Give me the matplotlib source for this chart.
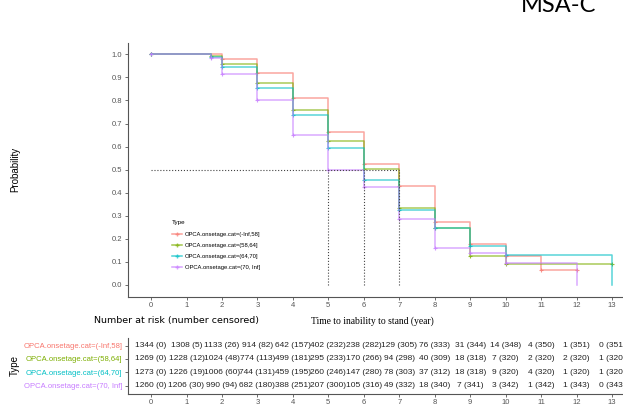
import numpy as np
import matplotlib
matplotlib.use("Agg")
import matplotlib.pyplot as plt
from matplotlib.lines import Line2D

# Group labels and colours (ggplot default hues)
groups = ["OPCA.onsetage.cat=(-Inf,58]", "OPCA.onsetage.cat=(58,64]",
          "OPCA.onsetage.cat=(64,70]", "OPCA.onsetage.cat=(70, Inf]"]
colors = ["#F8766D", "#7CAE00", "#00BFC4", "#C77CFF"]

# Kaplan-Meier step points (time, survival)
red_t = [0, 2, 3, 4, 5, 6, 7, 8, 9, 10, 11, 12]
red_s = [1.0, 0.978, 0.919, 0.812, 0.662, 0.524, 0.430, 0.273, 0.178, 0.127, 0.065, 0.065]
green_t = [0, 1.7, 2, 3, 4, 5, 6, 7, 8, 9, 10, 13]
green_s = [1.0, 0.992, 0.957, 0.877, 0.758, 0.623, 0.502, 0.334, 0.247, 0.124, 0.091, 0.091]
cyan_t = [0, 1.7, 2, 3, 4, 5, 6, 7, 8, 9, 10, 13]
cyan_s = [1.0, 0.988, 0.946, 0.855, 0.736, 0.594, 0.456, 0.324, 0.246, 0.168, 0.130, 0.0]
purple_t = [0, 1.7, 2, 3, 4, 5, 6, 7, 8, 9, 10, 12]
purple_s = [1.0, 0.982, 0.913, 0.800, 0.652, 0.500, 0.426, 0.287, 0.160, 0.139, 0.095, 0.0]

curves_t = [red_t, green_t, cyan_t, purple_t]
curves_s = [red_s, green_s, cyan_s, purple_s]

# median survival times
medians = [5, 6, 7]

# number at risk table
years = list(range(14))
risk_red = ["1344 (0)", "1308 (5)", "1133 (26)", "914 (82)", "642 (157)", "402 (232)", "238 (282)",
            "129 (305)", "76 (333)", "31 (344)", "14 (348)", "4 (350)", "1 (351)", "0 (351)"]
risk_green = ["1269 (0)", "1228 (12)", "1024 (48)", "774 (113)", "499 (181)", "295 (233)", "170 (266)",
              "94 (298)", "40 (309)", "18 (318)", "7 (320)", "2 (320)", "2 (320)", "1 (320)"]
risk_cyan = ["1273 (0)", "1226 (19)", "1006 (60)", "744 (131)", "459 (195)", "260 (246)", "147 (280)",
             "78 (303)", "37 (312)", "18 (318)", "9 (320)", "4 (320)", "1 (320)", "1 (320)"]
risk_purple = ["1260 (0)", "1206 (30)", "990 (94)", "682 (180)", "388 (251)", "207 (300)", "105 (316)",
               "49 (332)", "18 (340)", "7 (341)", "3 (342)", "1 (342)", "1 (343)", "0 (343)"]
risk_rows = [risk_red, risk_green, risk_cyan, risk_purple]

W, H = 623, 409
fig = plt.figure(figsize=(W / 100, H / 100), dpi=100)
plt.rcParams['font.family'] = ['Liberation Sans', 'DejaVu Sans']

def box(l, t, r, b):
    return [l / W, 1 - b / H, (r - l) / W, (b - t) / H]

# ---- survival curves
ax = fig.add_axes(box(128, 42.8, 635, 296.5))
for t, s, c in zip(curves_t, curves_s, colors):
    ax.step(t, s, where='post', color=c, lw=1.1, alpha=0.65)
    pts = [(ti, si) for ti, si in zip(t, s) if si > 0]
    ax.plot([p[0] for p in pts], [p[1] for p in pts], '+', color=c, ms=3, mew=0.8, alpha=0.8)

ax.plot([0, max(medians)], [0.5, 0.5], ':', color='#444444', lw=0.8)
for m in medians:
    ax.plot([m, m], [0, 0.5], ':', color='#444444', lw=0.8)

ax.set_xlim(-0.65, 13.65)
ax.set_ylim(-0.05, 1.05)
ax.set_xticks(years)
ax.set_yticks(np.arange(0, 1.01, 0.1))
ax.set_yticklabels([f"{v:.1f}" for v in np.arange(0, 1.01, 0.1)])
for sp in ['top', 'right']:
    ax.spines[sp].set_visible(False)
for sp in ['left', 'bottom']:
    ax.spines[sp].set_color('#555555')
    ax.spines[sp].set_linewidth(0.8)
ax.tick_params(labelsize=5.5, colors='#555555', length=2, width=0.6, pad=2)
ax.set_ylabel("Probability", fontsize=7, labelpad=0)
ax.yaxis.set_label_coords(-(128 - 20) / 507, 0.5)

handles = [Line2D([], [], color=c, lw=1.1, marker='+', ms=3, alpha=0.7) for c in colors]
leg = ax.legend(handles, groups, title="Type", loc='upper left',
                bbox_to_anchor=(170 / W, 1 - 218 / H), bbox_transform=fig.transFigure,
                frameon=False, fontsize=4.2, title_fontsize=4.5, handlelength=1.6,
                handletextpad=0.6, labelspacing=1.05, borderaxespad=0)
leg._legend_box.align = "left"

# ---- titles / labels
fig.text(559 / W, 1 - 12 / H, "MSA-C", fontsize=17, family='Lato', ha='center', va='baseline')
fig.text(176 / W, 1 - 321 / H, "Number at risk (number censored)", fontsize=6.8,
         family='DejaVu Sans', ha='center', va='center')
fig.text(372 / W, 1 - 321 / H, "Time to inability to stand (year)", fontsize=6.9,
         family='Liberation Serif', ha='center', va='center')

# ---- risk table
tab = fig.add_axes(box(128, 337.7, 635, 393.5))
for i, row in enumerate(risk_rows):
    yv = 4 - i
    for x, txt in zip(years, row):
        tab.text(x, yv, txt, fontsize=6, ha='center', va='center', color='#222222', clip_on=False)
tab.set_xlim(-0.65, 13.65)
tab.set_ylim(0.4, 4.6)
tab.set_xticks(years)
tab.set_yticks([4, 3, 2, 1])
tab.set_yticklabels(groups)
for sp in ['top', 'right']:
    tab.spines[sp].set_visible(False)
for sp in ['left', 'bottom']:
    tab.spines[sp].set_color('#555555')
    tab.spines[sp].set_linewidth(0.8)
tab.tick_params(axis='y', labelsize=5.5, length=2, width=0.6, colors='#555555', pad=2)
for lab, c in zip(tab.get_yticklabels(), colors):
    lab.set_color(c)
tab.tick_params(axis='x', labelsize=5.5, length=2, width=0.6, colors='#555555', pad=2)
tab.set_ylabel("Type", fontsize=7, labelpad=0)
tab.yaxis.set_label_coords(-(128 - 20) / 507, 0.5)

fig.savefig("out.png", dpi=100)
